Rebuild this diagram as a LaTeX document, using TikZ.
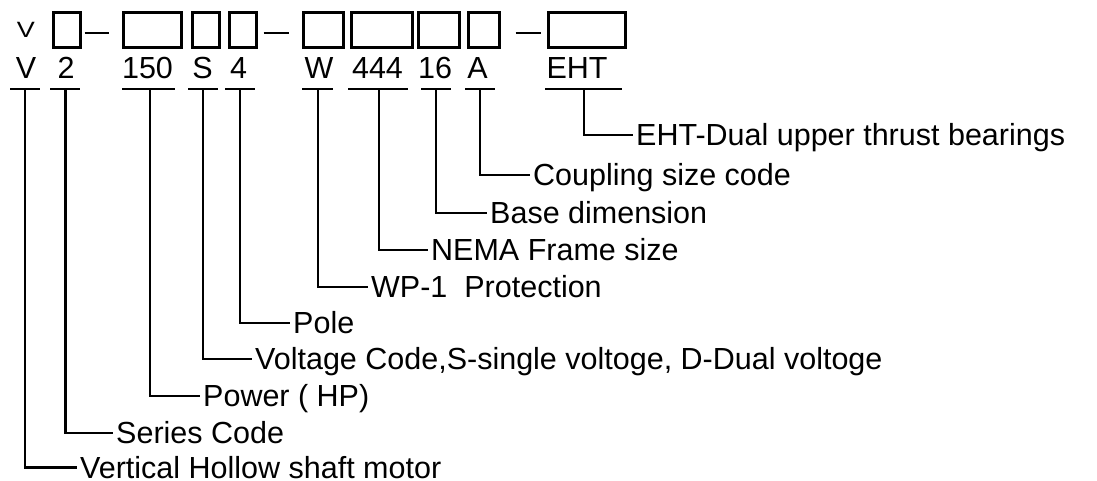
\documentclass[tikz,border=0pt]{standalone}
\usepackage{fontspec}
\setmainfont{Liberation Sans}
\usetikzlibrary{calc}
\begin{document}
\begin{tikzpicture}[x=1pt,y=-1pt,
  code/.style={anchor=base,inner sep=0pt,font=\fontsize{30.5}{36}\selectfont},
  topcode/.style={anchor=base,inner sep=0pt,font=\fontsize{27}{32}\selectfont},
  slot/.style={draw,line width=2.6pt,minimum height=35pt,inner sep=0pt,anchor=north west},
  lab/.style={anchor=west,inner xsep=3pt,inner ysep=0pt,text height=21.5pt,text depth=0pt,font=\fontsize{30.5}{36}\selectfont},
  wire/.style={line width=2.4pt},
  dashline/.style={line width=2.4pt}]
\useasboundingbox (0,0) rectangle (1097,481);
% top row
\node[topcode] (tV) at (26,38) {\scalebox{1}[0.82]{V}};
\node[slot,minimum width=27pt] (b1) at (52,11) {};
\node[slot,minimum width=58pt] (b150) at (122,11) {};
\node[slot,minimum width=27pt] (bS) at (191,11) {};
\node[slot,minimum width=27pt] (b4) at (228,11) {};
\node[slot,minimum width=40pt] (bW) at (302,11) {};
\node[slot,minimum width=61pt] (b444) at (350,11) {};
\node[slot,minimum width=41pt] (b16) at (417,11) {};
\node[slot,minimum width=31pt] (bA) at (467,11) {};
\node[slot,minimum width=77pt] (bEHT) at (547,11) {};
\draw[dashline] ([xshift=3pt,yshift=-3.5pt]b1.east) -- ([xshift=-13pt,yshift=-3.5pt]b150.west);
\draw[dashline] ([xshift=6pt,yshift=-3.5pt]b4.east) -- ([xshift=-13pt,yshift=-3.5pt]bW.west);
\draw[dashline] ([xshift=15pt,yshift=-3.5pt]bA.east) -- ([xshift=-6pt,yshift=-3.5pt]bEHT.west);
% codes
\node[code] (cV) at (26,79) {V};
\node[code] (c2) at (66,79) {2};
\node[code] (c150) at (147.5,79) {150};
\node[code] (cS) at (202.5,79) {S};
\node[code] (c4) at (238.5,79) {4};
\node[code] (cW) at (319,79) {W};
\node[code] (c444) at (377.5,79) {444};
\node[code] (c16) at (435,79) {16};
\node[code] (cA) at (477.5,79) {A};
\node[code] (cEHT) at (577,79) {EHT};
% bars
\coordinate (uV) at (25,89);
\coordinate (u2) at (65.5,89);
\coordinate (u150) at (150,89);
\coordinate (uS) at (203,89);
\coordinate (u4) at (240,89);
\coordinate (uW) at (318,89);
\coordinate (u444) at (379,89);
\coordinate (u16) at (436,89);
\coordinate (uA) at (480,89);
\coordinate (uEHT) at (584,89);
\draw[wire] (10,89) -- (40,89);
\draw[wire] (50,89) -- (80,89);
\draw[wire] (122,89) -- (175,89);
\draw[wire] (188,89) -- (218,89);
\draw[wire] (225,89) -- (255,89);
\draw[wire] (302,89) -- (333,89);
\draw[wire] (348,89) -- (408,89);
\draw[wire] (421,89) -- (451,89);
\draw[wire] (465,89) -- (495,89);
\draw[wire] (545,89) -- (622,89);
% labels
\node[lab] (lEHT) at (633,135) {EHT-Dual upper thrust bearings};
\node[lab] (lA) at (530,175) {Coupling size code};
\node[lab] (l16) at (487,213) {Base dimension};
\node[lab] (l444) at (428,250) {NEMA Frame size};
\node[lab] (lW) at (368,287) {WP-1\ \ Protection};
\node[lab] (l4) at (290,323) {Pole};
\node[lab] (lS) at (252,359) {Voltage Code,S-single voltoge, D-Dual voltoge};
\node[lab] (l150) at (200,396) {Power ( HP)};
\node[lab] (l2) at (113,433) {Series Code};
\node[lab] (lV) at (77,467.5) {Vertical Hollow shaft motor};
% connectors
\foreach \k in {V,2,150,S,4,W,444,16,A,EHT}
  \draw[wire] (u\k) |- (l\k.west);
\end{tikzpicture}
\end{document}
